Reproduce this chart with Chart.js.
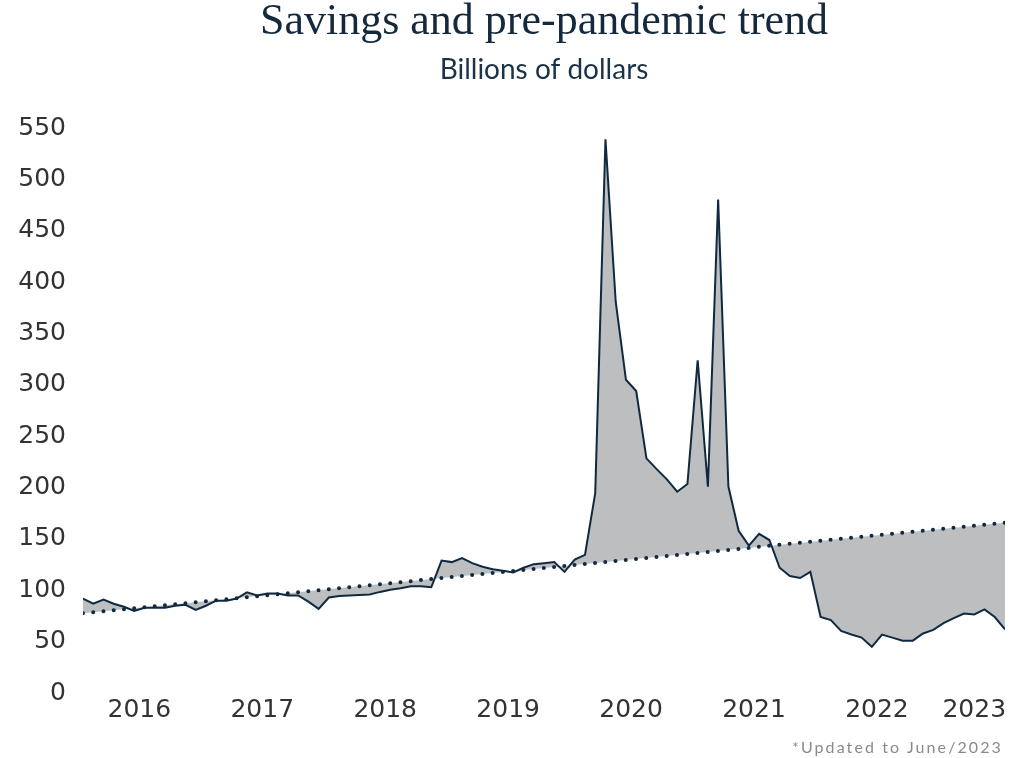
<!DOCTYPE html>
<html>
<head>
<meta charset="utf-8">
<title>Savings and pre-pandemic trend</title>
<script src="https://cdn.jsdelivr.net/npm/chart.js@4"></script>
<style>
  html, body { margin: 0; padding: 0; background: #fff; }
  #wrap { position: relative; width: 1014px; height: 758px; }
  #note {
    position: absolute; right: 11px; top: 737px;
    font-family: Lato, sans-serif; font-size: 16px; letter-spacing: 2.1px;
    color: #8a8a8a;
  }
</style>
</head>
<body>
<div id="wrap">
  <canvas id="savingsChart"></canvas>
  <div id="note">*Updated to June/2023</div>
</div>
<script>
// monthly personal savings, Jan 2016 .. Jul 2023 (billions of dollars)
const startYear = 2016;
const savings = [
  89, 84, 88, 84, 81, 77, 80, 80, 80, 82, 83, 78,          // 2016
  82, 87, 87, 89, 95, 92, 94, 94, 92, 92, 86, 79,          // 2017
  90, 91.5, 92, 92.5, 93, 95.5, 97.5, 99, 101, 101, 100, 126, // 2018
  124.5, 128.5, 123.5, 120, 117.5, 116, 114.5, 119, 122.5, 123.5, 124.5, 115, // 2019
  127, 131.5, 191.5, 536, 378, 302, 291, 225.5, 215, 205, 193, 200.5, // 2020
  321, 198, 477.5, 198, 155, 140.5, 152, 146, 119, 111, 109, 115, // 2021
  71, 68, 57.5, 54, 51, 42, 54, 51, 48, 48, 55, 58.5,       // 2022
  65, 70, 74.5, 73.5, 78.5, 71, 59                          // 2023
];
// pre-pandemic linear trend, first and last month
const trendStart = 74.6;
const trendEnd = 162.9;
const years = ['2016', '2017', '2018', '2019', '2020', '2021', '2022', '2023'];
const yTicks = [0, 50, 100, 150, 200, 250, 300, 350, 400, 450, 500, 550];

const navy = '#0f2a40';
const grey = '#bdbec0';
const tickFont = { family: 'DejaVu Sans', size: 25, weight: 'normal' };

// year label sits in the middle of the months that year has in the data
const lastIdx = savings.length - 1;
const yearTicks = years.map((y, k) => {
  const first = k * 12;
  const last = Math.min(first + 11, lastIdx);
  return { value: (first + last) / 2, label: y };
});

const savingsPoints = savings.map((v, i) => ({ x: i, y: v }));
const trendPoints = [{ x: 0, y: trendStart }, { x: lastIdx, y: trendEnd }];

const ctx = document.getElementById('savingsChart').getContext('2d');
new Chart(ctx, {
  type: 'line',
  data: {
    datasets: [
      {
        label: 'Savings',
        data: savingsPoints,
        borderColor: navy,
        borderWidth: 2,
        pointRadius: 0,
        tension: 0,
        fill: { target: 1, above: grey, below: grey }
      },
      {
        label: 'Pre-pandemic trend',
        data: trendPoints,
        borderColor: navy,
        borderWidth: 4,
        borderDash: [0, 10.29],
        borderCapStyle: 'round',
        pointRadius: 0,
        fill: false
      }
    ]
  },
  options: {
    responsive: true,
    maintainAspectRatio: false,
    animation: false,
    layout: { padding: { left: 0, right: 9, top: 0, bottom: 0 } },
    plugins: {
      legend: { display: false },
      tooltip: { enabled: false },
      filler: { drawTime: 'beforeDatasetsDraw' },
      title: {
        display: true,
        fullSize: false,
        text: 'Savings and pre-pandemic trend',
        color: '#14293d',
        font: { family: 'Liberation Serif', size: 44, weight: 'normal', lineHeight: 1.0 },
        padding: { top: 0, bottom: 9 }
      },
      subtitle: {
        display: true,
        fullSize: false,
        text: 'Billions of dollars',
        color: '#1b3347',
        font: { family: 'Lato', size: 28, weight: 'normal', lineHeight: 1.2 },
        padding: { top: 0, bottom: 38.4 }
      }
    },
    scales: {
      x: {
        type: 'linear',
        min: 0,
        max: lastIdx,
        grid: { display: false, drawTicks: false },
        border: { display: false },
        afterBuildTicks: (scale) => {
          scale.ticks = yearTicks.map(t => ({ value: t.value }));
        },
        afterFit: (scale) => { scale.height = 68; },
        ticks: {
          autoSkip: false,
          maxRotation: 0,
          padding: 5,
          color: '#333',
          font: tickFont,
          callback: (value) => {
            const t = yearTicks.find(t => t.value === value);
            return t ? t.label : '';
          }
        }
      },
      y: {
        min: 0,
        max: 550,
        grid: { display: false, drawTicks: false },
        border: { display: false },
        afterBuildTicks: (scale) => {
          scale.ticks = yTicks.map(v => ({ value: v }));
        },
        afterFit: (scale) => { scale.width = 83; },
        ticks: {
          padding: 17,
          labelOffset: 3,
          color: '#333',
          font: tickFont
        }
      }
    }
  }
});
</script>
</body>
</html>
